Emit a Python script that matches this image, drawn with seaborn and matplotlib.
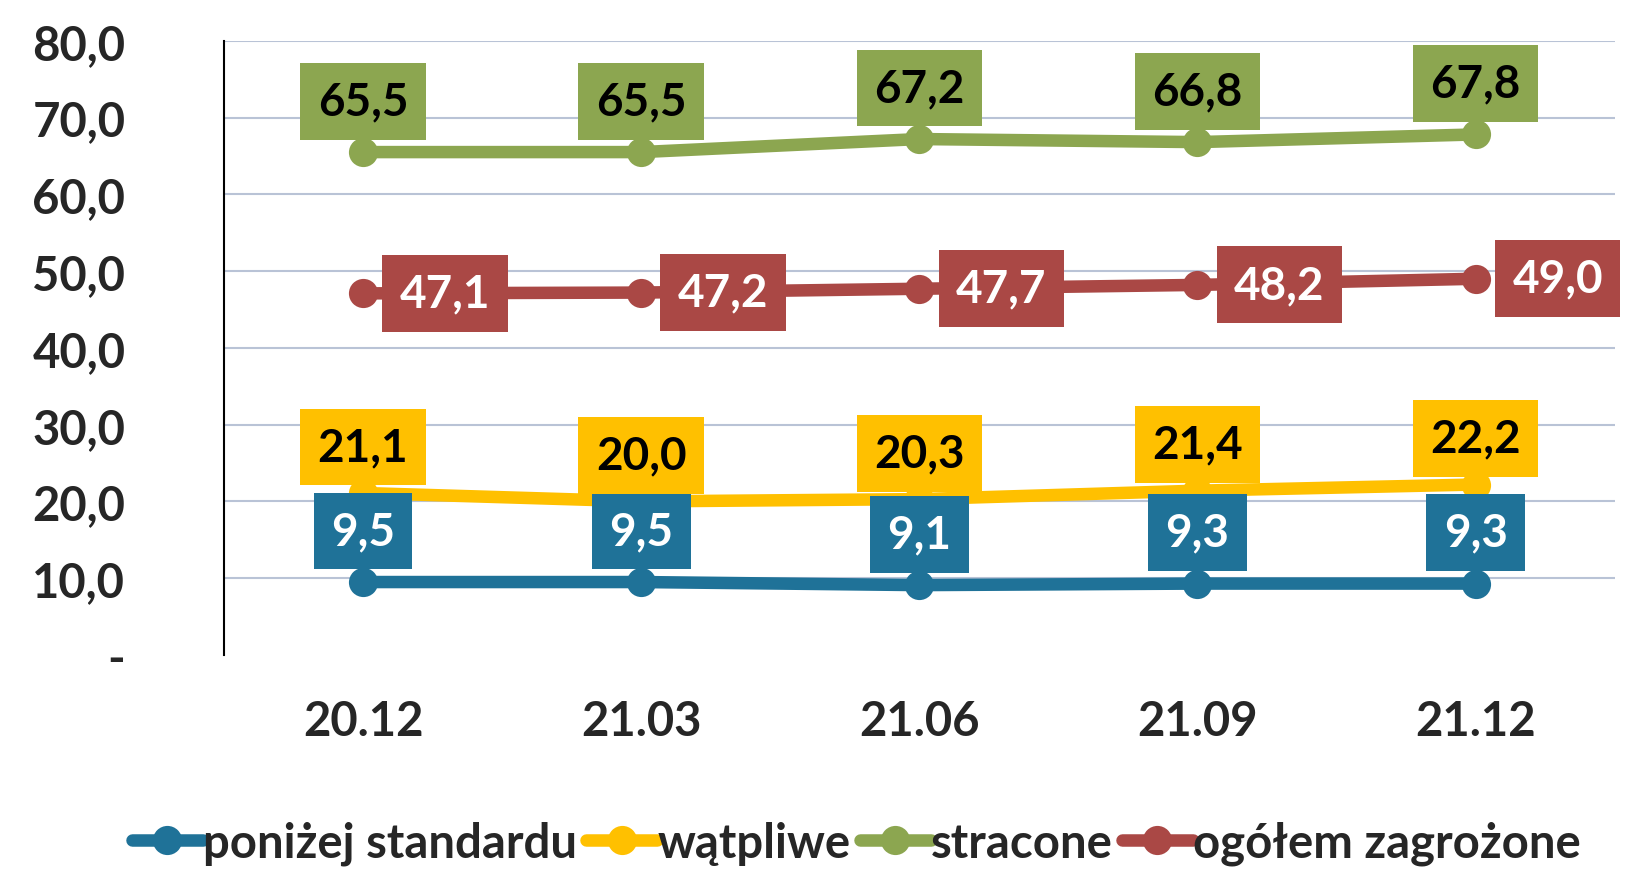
import numpy as np
import pandas as pd
import seaborn as sns
from matplotlib import pyplot as plt
from matplotlib.ticker import FuncFormatter

okresy = ["20.12", "21.03", "21.06", "21.09", "21.12"]
ponizej = [9.5, 9.5, 9.1, 9.3, 9.3]
watpliwe = [21.1, 20.0, 20.3, 21.4, 22.2]
stracone = [65.5, 65.5, 67.2, 66.8, 67.8]
ogolem = [47.1, 47.2, 47.7, 48.2, 49.0]

nazwy = ["poniżej standardu", "wątpliwe", "stracone", "ogółem zagrożone"]
kolory = ["#1F7298", "#FFC000", "#8CA650", "#AA4845"]
serie = [ponizej, watpliwe, stracone, ogolem]

df = pd.DataFrame({
    "okres": okresy * 4,
    "seria": [n for n in nazwy for _ in okresy],
    "wartosc": ponizej + watpliwe + stracone + ogolem,
})

sns.set_style("white")
plt.rcParams['font.family'] = ['Lato', 'DejaVu Sans']
plt.rcParams['font.weight'] = 'bold'

fig = plt.figure(figsize=(16.31, 8.70), dpi=100)
ax = fig.add_axes([0.1373, 0.246, 0.8527, 0.706])

sns.lineplot(data=df, x="okres", y="wartosc", hue="seria", hue_order=nazwy,
             palette=kolory, marker="o", markersize=21, markeredgewidth=0,
             linewidth=9, sort=False, ax=ax)

# etykiety danych w kolorowych ramkach
fs = 33
for i, (vals, kol) in enumerate(zip(serie, kolory)):
    tc = "white" if i in (0, 3) else "black"
    for j, v in enumerate(vals):
        txt = f"{v:.1f}".replace(".", ",")
        if i == 3:
            off = (82, 0)
        elif i == 1:
            off = (0, 46)
        else:
            off = (0, 51)
        ax.annotate(txt, (j, v), xytext=off, textcoords="offset pixels",
                    ha="center", va="center", fontsize=fs, fontweight="bold",
                    color=tc, zorder=5, annotation_clip=False,
                    bbox=dict(boxstyle="square,pad=0.38", fc=kol, ec="none"))

ax.set_xlim(-0.5, 4.5)
ax.set_ylim(0, 80)
ax.set_yticks(np.arange(0, 81, 10))
ax.yaxis.set_major_formatter(FuncFormatter(
    lambda v, p: "-" if v == 0 else f"{v:.1f}".replace(".", ",")))
ax.tick_params(axis="y", length=0, pad=71, labelsize=34)
ax.tick_params(axis="x", length=0, pad=32, labelsize=34)
for t in ax.get_xticklabels() + ax.get_yticklabels():
    t.set_fontweight("bold")
ax.set_xlabel("")
ax.set_ylabel("")

ax.yaxis.grid(True, color="#B9C3D6", linewidth=1.5)
ax.get_ygridlines()[0].set_visible(False)
ax.set_axisbelow(True)
for s in ["top", "right", "bottom"]:
    ax.spines[s].set_visible(False)
ax.spines["left"].set_color("black")
ax.spines["left"].set_linewidth(1.5)

ax.legend_.remove()
handles, labels = ax.get_legend_handles_labels()
fig.legend(handles, labels, loc="center", bbox_to_anchor=(0.525, 0.03),
           ncol=4, frameon=False, handlelength=1.5,
           handletextpad=0.0, columnspacing=0.2, borderaxespad=0,
           prop={"weight": "bold", "size": 34})

fig.savefig("out.png", dpi=100)
